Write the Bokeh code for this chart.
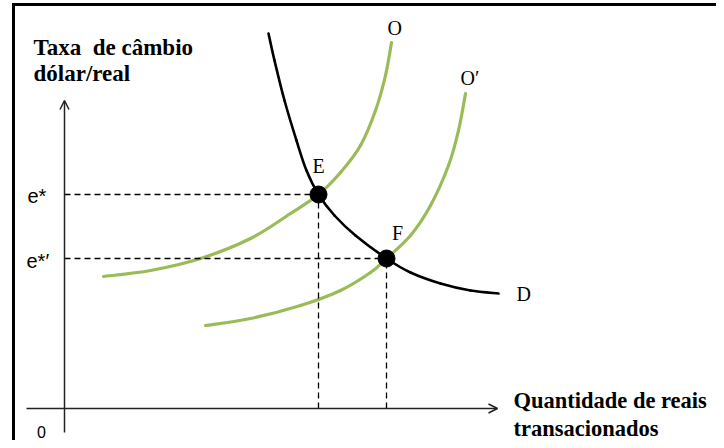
from bokeh.plotting import figure
from bokeh.models import Range1d, Arrow, OpenHead
from bokeh.core.properties import value
from bokeh.embed import file_html
from bokeh.resources import INLINE

# ---- data (quantity on x, exchange rate on y; origin = axis intersection) ----
demand_x = [20.4, 21.0, 22.0, 23.2, 24.2, 25.4, 27.0, 29.1, 32.2, 34.6, 37.6, 40.6, 43.4]
demand_y = [37.5, 34.8, 30.8, 26.8, 23.8, 21.4, 19.3, 17.3, 15.0, 13.6, 12.5, 11.8, 11.5]

supply_x = [3.9, 8.6, 13.6, 18.6, 22.6, 25.4, 27.6, 29.6, 31.1, 32.1, 32.7]
supply_y = [13.2, 13.8, 15.0, 17.0, 19.5, 21.4, 23.6, 26.3, 29.8, 33.3, 36.6]

supply2_x = [14.1, 18.6, 23.6, 27.6, 30.6, 32.2, 34.6, 36.6, 38.4, 39.4, 40.1]
supply2_y = [8.3, 9.0, 10.3, 11.8, 13.6, 15.0, 17.3, 20.3, 24.3, 27.8, 31.5]

eq_names = ["E", "F"]
eq_x = [25.4, 32.2]
eq_y = [21.4, 15.0]
eq_tick_labels = ["e*", "e*\u2032"]

y_title = ["Taxa\u00a0 de câmbio", "dólar/real"]
x_title = ["Quantidade de reais", "transacionados"]


def smooth(xs, ys):
    """Catmull-Rom curve through the given points, as cubic Bezier segments."""
    px = [xs[0]] + list(xs) + [xs[-1]]
    py = [ys[0]] + list(ys) + [ys[-1]]
    x0, y0, x1, y1, cx0, cy0, cx1, cy1 = [], [], [], [], [], [], [], []
    for i in range(1, len(px) - 2):
        x0.append(px[i]); y0.append(py[i])
        x1.append(px[i + 1]); y1.append(py[i + 1])
        cx0.append(px[i] + (px[i + 1] - px[i - 1]) / 6)
        cy0.append(py[i] + (py[i + 1] - py[i - 1]) / 6)
        cx1.append(px[i + 1] - (px[i + 2] - px[i]) / 6)
        cy1.append(py[i + 1] - (py[i + 2] - py[i]) / 6)
    return dict(x0=x0, y0=y0, x1=x1, y1=y1, cx0=cx0, cy0=cy0, cx1=cx1, cy1=cy1)


W, H = 716, 440
p = figure(width=W, height=H, output_backend="svg", toolbar_location=None,
           x_range=Range1d(-6.4, 65.2), y_range=Range1d(-3.2, 40.8),
           x_axis_type=None, y_axis_type=None, min_border=0,
           background_fill_color="white", border_fill_color="white")
p.grid.visible = False
p.outline_line_color = None

# frame border (left and top)
p.segment(x0=[-5.1], y0=[-3.2], x1=[-5.1], y1=[40.4], line_color="black", line_width=3)
p.segment(x0=[-5.25], y0=[40.4], x1=[65.2], y1=[40.4], line_color="black", line_width=3)

# axes with arrows
ax_col = "#222222"
p.add_layout(Arrow(end=OpenHead(size=9, line_width=1.5, line_color=ax_col),
                   x_start=0, y_start=-2.4, x_end=0, y_end=30.8,
                   line_width=1.5, line_color=ax_col))
p.add_layout(Arrow(end=OpenHead(size=9, line_width=1.5, line_color=ax_col),
                   x_start=-3.8, y_start=0, x_end=43.3, y_end=0,
                   line_width=1.5, line_color=ax_col))

# supply curves
green = "#9BBB59"
p.bezier(line_color=green, line_width=3.2, line_cap="round", **smooth(supply_x, supply_y))
p.bezier(line_color=green, line_width=3.2, line_cap="round", **smooth(supply2_x, supply2_y))
# demand curve
p.bezier(line_color="black", line_width=2.6, line_cap="round", **smooth(demand_x, demand_y))

# dashed guides
for ex, ey in zip(eq_x, eq_y):
    p.segment(x0=[0], y0=[ey], x1=[ex], y1=[ey], line_color="black", line_width=1.3, line_dash="6 4")
    p.segment(x0=[ex], y0=[0], x1=[ex], y1=[ey], line_color="black", line_width=1.3, line_dash="6 4")

# equilibrium points
p.scatter(eq_x, eq_y, size=17, fill_color="black", line_color="black")

serif = value("Liberation Serif")
sans = value("Liberation Sans")

# point labels
p.text(x=[eq_x[0], eq_x[1] + 1.1], y=[eq_y[0] + 2.9, eq_y[1] + 2.6], text=eq_names,
       text_font=serif, text_font_size="20px", text_align="center",
       text_baseline="middle", text_color="black")
# curve labels
p.text(x=[supply_x[-1] + 0.3, supply2_x[-1] + 0.2, demand_x[-1] + 2.5],
       y=[supply_y[-1] + 1.5, supply2_y[-1] + 1.6, demand_y[-1]],
       text=["O", "O\u2032", "D"],
       text_font=serif, text_font_size="20px", text_align="left",
       text_baseline="middle", text_color="black", x_offset=-7)

# y tick labels e*, e*'
p.text(x=[-3.7, -3.8], y=eq_y, text=eq_tick_labels, text_font=sans,
       text_font_size="20px", text_align="left", text_baseline="middle",
       text_color="black", y_offset=[1, 2])
# origin
p.text(x=[-2.3], y=[-2.3], text=["0"], text_font=sans, text_font_size="16px",
       text_align="center", text_baseline="middle", text_color="black")

# axis titles
p.text(x=[-3.1, -3.1], y=[36.1, 33.5], text=y_title, text_font=serif,
       text_font_style="bold", text_font_size="23px", text_align="left",
       text_baseline="alphabetic", text_color="black")
p.text(x=[44.9, 44.9], y=[0.8, -2.0], text=x_title, text_font=serif,
       text_font_style="bold", text_font_size="22.5px", text_align="left",
       text_baseline="alphabetic", text_color="black")

open("out.html", "w").write(file_html(p, INLINE))
